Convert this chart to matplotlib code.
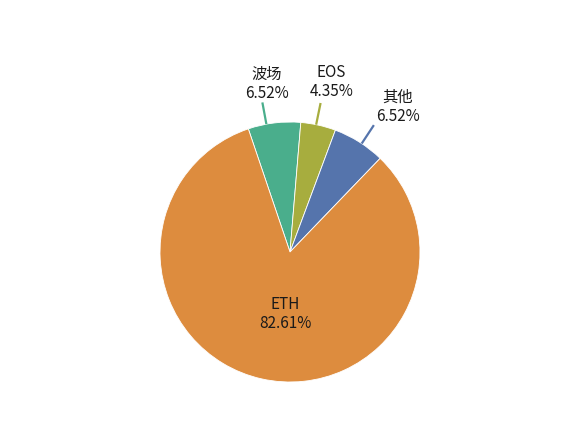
import numpy as np
import matplotlib
matplotlib.use('Agg')
import matplotlib.pyplot as plt

plt.rcParams['font.family'] = ['Noto Sans CJK SC', 'DejaVu Sans']

names = ['波场', 'EOS', '其他', 'ETH']
shares = [6.52, 4.35, 6.52, 82.61]
colors = ['#4aae8c', '#a7ad3e', '#5574ac', '#dd8c3e']

# pie drawn in pixel units so it sits where the reference has it
W, H = 582, 440
cx, cy, R = 290, 440 - 252, 130

fig = plt.figure(figsize=(W / 100, H / 100), dpi=100)
ax = fig.add_axes([0, 0, 1, 1])
wedges, _ = ax.pie(shares, colors=colors, radius=R, center=(cx, cy),
                   startangle=108.7, counterclock=False,
                   wedgeprops=dict(edgecolor='white', linewidth=0.6))
ax.set_xlim(0, W)
ax.set_ylim(0, H)
ax.set_aspect('equal')
ax.axis('off')

# per-label tweaks: angle nudge (deg), text offset from line end (px)
nudge = [-3.5, -1.0, 1.3, -8.0]
offsets = [(4.5, 18.6), (11, 21), (24, 18), None]

for i, w in enumerate(wedges):
    mid = (w.theta1 + w.theta2) / 2 + (-nudge[i])
    t = np.deg2rad(mid)
    label = '{}\n{:.2f}%'.format(names[i], shares[i])
    if offsets[i] is None:
        ax.text(cx + 0.48 * R * np.cos(t), cy + 0.48 * R * np.sin(t), label,
                ha='center', va='center', fontsize=11, color='#1a1a1a',
                linespacing=1.2)
        continue
    x0, y0 = cx + R * np.cos(t), cy + R * np.sin(t)
    x1, y1 = cx + 1.17 * R * np.cos(t), cy + 1.17 * R * np.sin(t)
    ax.plot([x0, x1], [y0, y1], color=colors[i], lw=1.6, solid_capstyle='butt')
    dx, dy = offsets[i]
    ax.text(x1 + dx, y1 + dy, label, ha='center', va='center',
            fontsize=11, color='#1a1a1a', linespacing=1.2)

fig.savefig('out.png', dpi=100)
